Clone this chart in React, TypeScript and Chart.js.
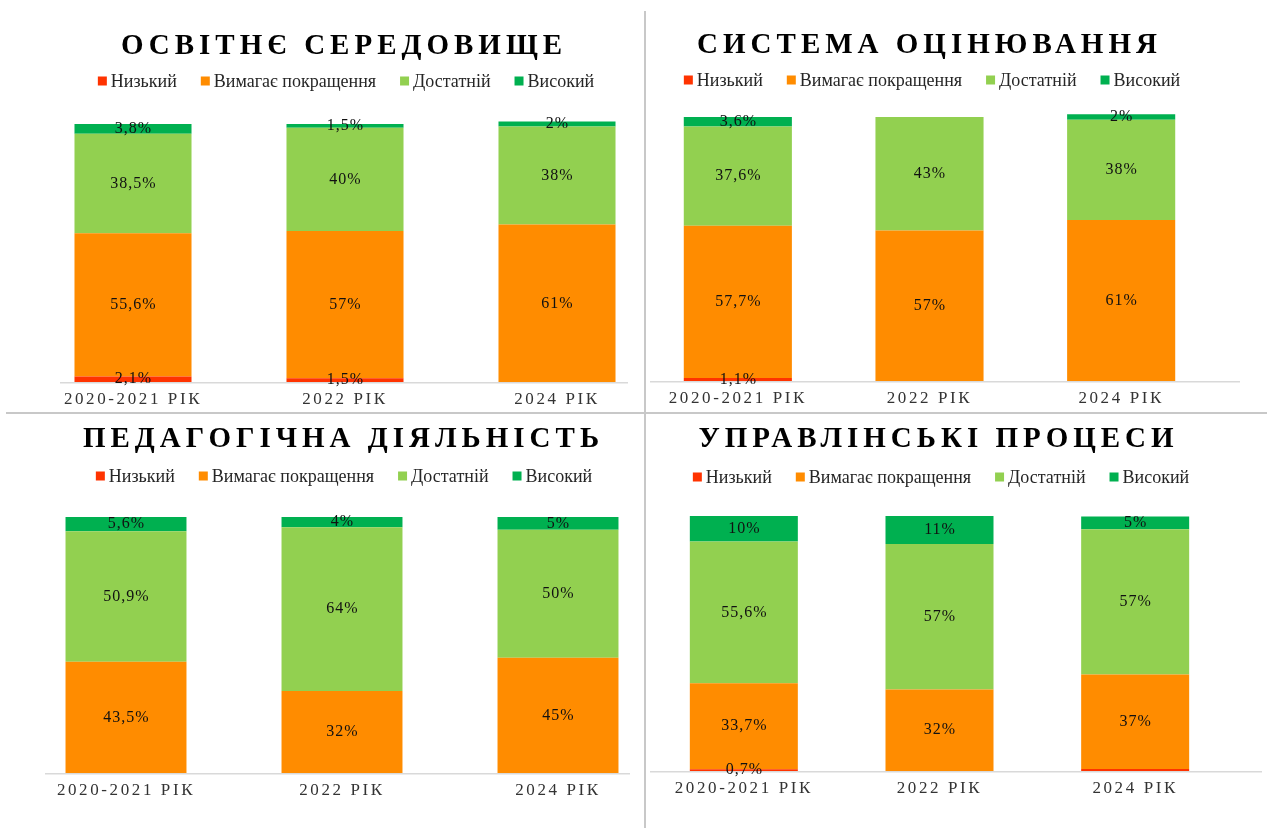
import React, { useEffect, useRef } from "react";
import { Chart, registerables } from "chart.js";

Chart.register(...registerables);

// ---------- DATA ----------
const categories = ["2020-2021 РІК", "2022 РІК", "2024 РІК"];
const seriesNames = ["Низький", "Вимагає покращення", "Достатній", "Високий"];

const titleEnv = "ОСВІТНЄ СЕРЕДОВИЩЕ";
const envLow = [2.1, 1.5, 0];
const envImprove = [55.6, 57, 61];
const envSufficient = [38.5, 40, 38];
const envHigh = [3.8, 1.5, 2];

const titleAssess = "СИСТЕМА ОЦІНЮВАННЯ";
const assessLow = [1.1, 0, 0];
const assessImprove = [57.7, 57, 61];
const assessSufficient = [37.6, 43, 38];
const assessHigh = [3.6, 0, 2];

const titlePed = "ПЕДАГОГІЧНА ДІЯЛЬНІСТЬ";
const pedLow = [0, 0, 0];
const pedImprove = [43.5, 32, 45];
const pedSufficient = [50.9, 64, 50];
const pedHigh = [5.6, 4, 5];

const titleMgmt = "УПРАВЛІНСЬКІ ПРОЦЕСИ";
const mgmtLow = [0.7, 0, 0.8];
const mgmtImprove = [33.7, 32, 37];
const mgmtSufficient = [55.6, 57, 57];
const mgmtHigh = [10, 11, 5];
// segments whose value label is not shown in the original: [series, category]
const mgmtUnlabeled = [[0, 2]];

// ---------- STYLE / LAYOUT ----------
const W = 1267;
const H = 828;
const Y_MAX = 105;
const AXIS_H = 40;
const seriesColors = ["#FF3300", "#FF8C00", "#92D050", "#00B050"];
const SERIF = "'Liberation Serif', 'Times New Roman', serif";

type Layout = {
  L: number; R: number; B: number; perPct: number; barFrac: number;
  titleX: number; titleY: number; legendX: number; legendY: number;
  axisX1: number; axisX2: number;
};

const panels: { title: string; series: number[][]; unlabeled: number[][]; layout: Layout }[] = [
  {
    title: titleEnv,
    series: [envLow, envImprove, envSufficient, envHigh],
    unlabeled: [],
    layout: { L: 27, R: 663, B: 382, perPct: 2.58, barFrac: 0.552, titleX: 341.5, titleY: 44, legendX: 346, legendY: 81, axisX1: 60, axisX2: 628 },
  },
  {
    title: titleAssess,
    series: [assessLow, assessImprove, assessSufficient, assessHigh],
    unlabeled: [],
    layout: { L: 642, R: 1217, B: 381, perPct: 2.64, barFrac: 0.564, titleX: 927, titleY: 43, legendX: 932, legendY: 80, axisX1: 650, axisX2: 1240 },
  },
  {
    title: titlePed,
    series: [pedLow, pedImprove, pedSufficient, pedHigh],
    unlabeled: [],
    layout: { L: 18, R: 666, B: 773, perPct: 2.56, barFrac: 0.56, titleX: 341, titleY: 437, legendX: 344, legendY: 476, axisX1: 45, axisX2: 630 },
  },
  {
    title: titleMgmt,
    series: [mgmtLow, mgmtImprove, mgmtSufficient, mgmtHigh],
    unlabeled: mgmtUnlabeled,
    layout: { L: 646, R: 1233, B: 771, perPct: 2.55, barFrac: 0.552, titleX: 936, titleY: 437, legendX: 941, legendY: 477, axisX1: 650, axisX2: 1262 },
  },
];

function fmt(v: number) {
  return String(v).replace(".", ",") + "%";
}

function makePlugin(title: string, layout: Layout, unlabeled: number[][]) {
  return {
    id: "decor",
    beforeDraw(chart: any) {
      chart.ctx.letterSpacing = "2.6px";
    },
    beforeDatasetsDraw(chart: any) {
      const ctx = chart.ctx;
      ctx.letterSpacing = "0px";
      const y0 = chart.scales.y.getPixelForValue(0);
      ctx.save();
      ctx.strokeStyle = "#d9d9d9";
      ctx.lineWidth = 1.5;
      ctx.beginPath();
      ctx.moveTo(layout.axisX1, y0 + 0.75);
      ctx.lineTo(layout.axisX2, y0 + 0.75);
      ctx.stroke();
      ctx.restore();
    },
    afterDatasetsDraw(chart: any) {
      const ctx = chart.ctx;
      ctx.save();
      ctx.font = `16px ${SERIF}`;
      ctx.letterSpacing = "1px";
      ctx.fillStyle = "#111111";
      ctx.textAlign = "center";
      ctx.textBaseline = "middle";
      chart.data.datasets.forEach((ds: any, i: number) => {
        const meta = chart.getDatasetMeta(i);
        meta.data.forEach((bar: any, j: number) => {
          const v = ds.data[j];
          if (!v) return;
          if (unlabeled.some((p) => p[0] === i && p[1] === j)) return;
          const y = (bar.y + bar.base) / 2;
          ctx.fillText(fmt(v), bar.x + 0.5, y);
        });
      });
      ctx.restore();
    },
    afterDraw(chart: any) {
      const ctx = chart.ctx;
      ctx.save();
      // title
      ctx.font = `bold 29px ${SERIF}`;
      ctx.letterSpacing = "5px";
      ctx.fillStyle = "#000000";
      ctx.textAlign = "center";
      ctx.textBaseline = "alphabetic";
      ctx.fillText(title, layout.titleX + 2.5, layout.titleY + 9.6);
      // legend
      ctx.letterSpacing = "0px";
      ctx.font = `18px ${SERIF}`;
      ctx.textAlign = "left";
      ctx.textBaseline = "middle";
      const box = 9, gap = 4, between = 24;
      const items = chart.data.datasets.map((ds: any) => ({
        text: ds.label,
        color: ds.backgroundColor,
        w: box + gap + ctx.measureText(ds.label).width,
      }));
      const total = items.reduce((s: number, it: any) => s + it.w, 0) + between * (items.length - 1);
      let x = layout.legendX - total / 2;
      items.forEach((it: any) => {
        ctx.fillStyle = it.color;
        ctx.fillRect(x, layout.legendY - box / 2, box, box);
        ctx.fillStyle = "#262626";
        ctx.fillText(it.text, x + box + gap, layout.legendY + 1);
        x += it.w + between;
      });
      ctx.restore();
      ctx.letterSpacing = "0px";
    },
  };
}

function Panel({ idx }: { idx: number }) {
  const ref = useRef<HTMLCanvasElement>(null);
  useEffect(() => {
    const p = panels[idx];
    const lay = p.layout;
    const chart = new Chart(ref.current as HTMLCanvasElement, {
      type: "bar",
      data: {
        labels: categories,
        datasets: p.series.map((values, i) => ({
          label: seriesNames[i],
          data: values,
          backgroundColor: seriesColors[i],
          borderWidth: 0,
          barPercentage: lay.barFrac,
          categoryPercentage: 1,
        })),
      },
      options: {
        responsive: false,
        animation: false,
        devicePixelRatio: 1,
        layout: {
          padding: {
            left: lay.L,
            right: W - lay.R,
            top: lay.B - Y_MAX * lay.perPct,
            bottom: H - lay.B - AXIS_H,
          },
        },
        plugins: {
          legend: { display: false },
          title: { display: false },
          tooltip: { enabled: false },
        },
        scales: {
          x: {
            stacked: true,
            grid: { display: false, drawTicks: false },
            border: { display: false },
            ticks: {
              autoSkip: false,
              maxRotation: 0,
              minRotation: 0,
              padding: 7,
              color: "#333333",
              font: { family: SERIF, size: 17 },
            },
            afterFit: (s: any) => {
              s.height = AXIS_H;
            },
          },
          y: {
            stacked: true,
            display: false,
            min: 0,
            max: Y_MAX,
          },
        },
      },
      plugins: [makePlugin(p.title, lay, p.unlabeled)],
    } as any);
    return () => chart.destroy();
  }, [idx]);
  return (
    <canvas
      ref={ref}
      width={W}
      height={H}
      style={{ position: "absolute", left: 0, top: 0, width: W, height: H }}
    />
  );
}

export default function App() {
  return (
    <div
      style={{
        position: "absolute",
        left: 0,
        top: 0,
        width: W,
        height: H,
        background: "#ffffff",
        overflow: "hidden",
      }}
    >
      <div style={{ position: "absolute", left: 644, top: 11, width: 2, height: H - 11, background: "#c8c8c8" }} />
      <div style={{ position: "absolute", left: 6, top: 412, width: W - 6, height: 2, background: "#c8c8c8" }} />
      {panels.map((_, i) => (
        <Panel key={i} idx={i} />
      ))}
    </div>
  );
}
